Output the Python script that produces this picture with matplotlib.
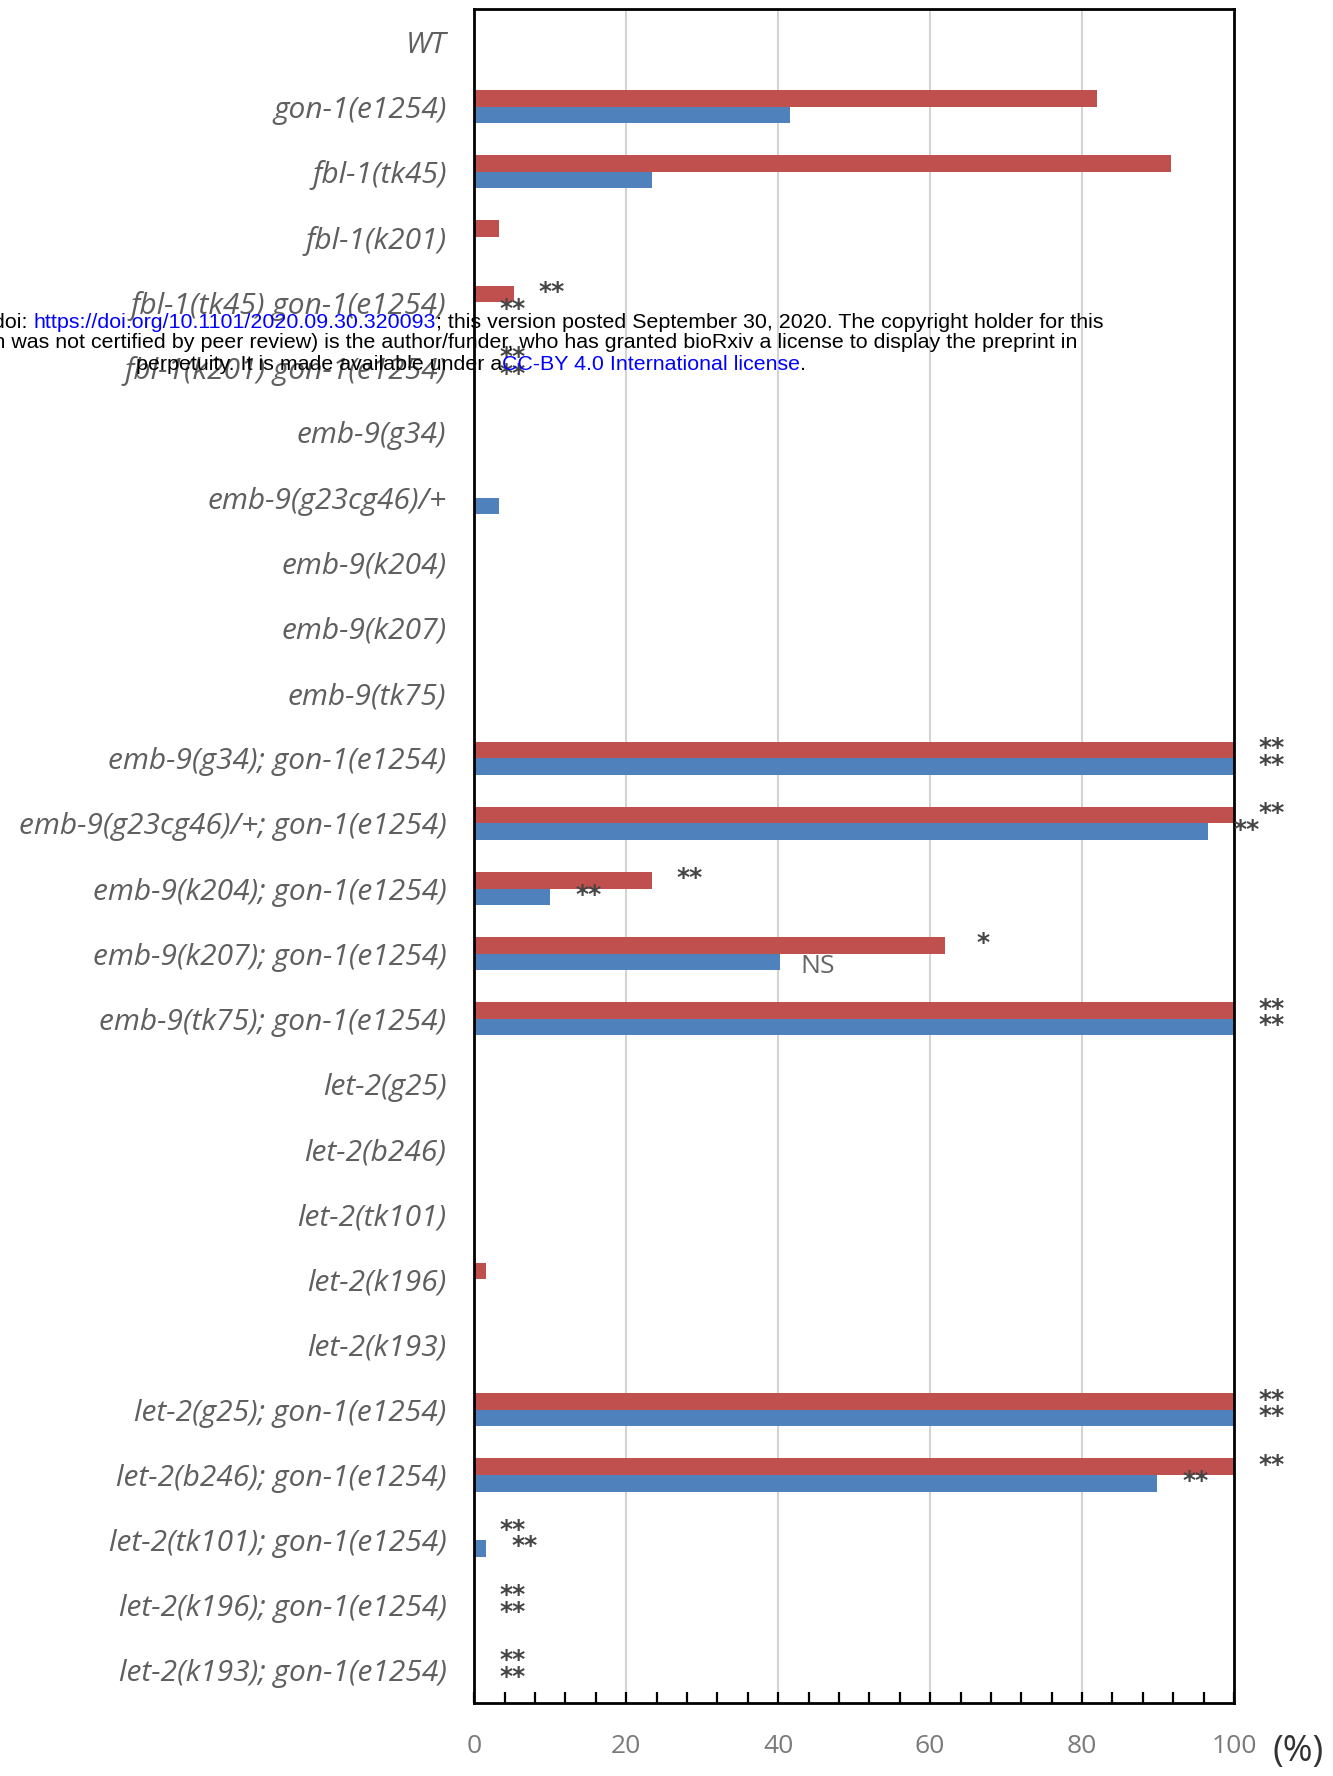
import matplotlib
matplotlib.use("Agg")
import matplotlib.pyplot as plt
from matplotlib.ticker import MultipleLocator
import numpy as np

# ---- data ----
categories = [
    "WT",
    "gon-1(e1254)",
    "fbl-1(tk45)",
    "fbl-1(k201)",
    "fbl-1(tk45) gon-1(e1254)",
    "fbl-1(k201) gon-1(e1254)",
    "emb-9(g34)",
    "emb-9(g23cg46)/+",
    "emb-9(k204)",
    "emb-9(k207)",
    "emb-9(tk75)",
    "emb-9(g34); gon-1(e1254)",
    "emb-9(g23cg46)/+; gon-1(e1254)",
    "emb-9(k204); gon-1(e1254)",
    "emb-9(k207); gon-1(e1254)",
    "emb-9(tk75); gon-1(e1254)",
    "let-2(g25)",
    "let-2(b246)",
    "let-2(tk101)",
    "let-2(k196)",
    "let-2(k193)",
    "let-2(g25); gon-1(e1254)",
    "let-2(b246); gon-1(e1254)",
    "let-2(tk101); gon-1(e1254)",
    "let-2(k196); gon-1(e1254)",
    "let-2(k193); gon-1(e1254)",
]

red_values = [0, 82, 91.7, 3.3, 5.2, 0,
              0, 0, 0, 0, 0,
              100, 100, 23.4, 62, 100,
              0, 0, 0, 1.5, 0,
              100, 100, 0, 0, 0]

blue_values = [0, 41.6, 23.4, 0, 0, 0,
               0, 3.3, 0, 0, 0,
               100, 96.6, 10, 40.2, 100,
               0, 0, 0, 0, 0,
               100, 89.9, 1.6, 0, 0]

# significance marks: (category index, series, mark)
marks = [
    (4, "red", "**"), (4, "blue", "**"),
    (5, "red", "**"), (5, "blue", "**"),
    (11, "red", "**"), (11, "blue", "**"),
    (12, "red", "**"), (12, "blue", "**"),
    (13, "red", "**"), (13, "blue", "**"),
    (14, "red", "*"), (14, "blue", "NS"),
    (15, "red", "**"), (15, "blue", "**"),
    (21, "red", "**"), (21, "blue", "**"),
    (22, "red", "**"), (22, "blue", "**"),
    (23, "red", "**"), (23, "blue", "**"),
    (24, "red", "**"), (24, "blue", "**"),
    (25, "red", "**"), (25, "blue", "**"),
]

x_ticks = [0, 20, 40, 60, 80, 100]

# ---- styling ----
RED = "#C0504D"
BLUE = "#4F81BD"
LABEL_GRAY = "#5f5f5f"
TICK_GRAY = "#7a7a7a"
LABEL_FONT = ["Open Sans", "DejaVu Sans"]

W, H = 1333, 1776
fig = plt.figure(figsize=(W / 100, H / 100), dpi=100)
ax_left, ax_right, ax_top, ax_bottom = 474.3, 1234.0, 9.0, 1703.0
ax = fig.add_axes([ax_left / W, 1 - ax_bottom / H,
                   (ax_right - ax_left) / W, (ax_bottom - ax_top) / H])

y = np.arange(len(categories))
bar_h = 0.255
ax.barh(y - bar_h / 2, red_values, height=bar_h, color=RED, zorder=3)
ax.barh(y + bar_h / 2, blue_values, height=bar_h, color=BLUE, zorder=3)

ax.set_xlim(0, 100)
ax.set_ylim(len(categories) - 0.5, -0.5)

# grid and frame
for gx in x_ticks[1:-1]:
    ax.axvline(gx, color="#d4d4d4", lw=1.5, zorder=1)
for sp in ax.spines.values():
    sp.set_color("black")
    sp.set_linewidth(2)
    sp.set_zorder(5)

ax.set_xticks(x_ticks)
ax.set_xticklabels([str(t) for t in x_ticks])
ax.xaxis.set_minor_locator(MultipleLocator(4))
ax.tick_params(axis="x", which="both", direction="in", length=8, width=1.6,
               color="black", top=False, pad=22, labelsize=19,
               labelcolor=TICK_GRAY)
for lab in ax.get_xticklabels():
    lab.set_family(LABEL_FONT)

ax.set_yticks(y)
ax.set_yticklabels(categories)
ax.tick_params(axis="y", length=0, pad=20, labelsize=21.5,
               labelcolor=LABEL_GRAY)
for lab in ax.get_yticklabels():
    lab.set_family(LABEL_FONT)
    lab.set_style("italic")

# significance marks next to each bar
offset = 5.0
for idx, series, mark in marks:
    if series == "red":
        val = red_values[idx]
        yc = idx - bar_h / 2
    else:
        val = blue_values[idx]
        yc = idx + bar_h / 2
    if mark == "NS":
        ax.text(val + offset, yc + 0.07, mark, ha="center", va="center",
                fontsize=19, color="#666666", family=LABEL_FONT,
                clip_on=False, zorder=6)
    else:
        ax.text(val + offset, yc - 0.03, mark, ha="center", va="center",
                fontsize=18, fontweight="bold", color="#454545",
                family=["DejaVu Sans"], clip_on=False, zorder=6)

fig.text(1272 / W, 1 - 1752 / H, "(%)", ha="left", va="center",
         fontsize=26, color="#333333", family=LABEL_FONT)

# ---- preprint notice printed across the page ----
notice_lines = [
    [("bioRxiv preprint doi: ", "black"),
     ("https://doi.org/10.1101/2020.09.30.320093", "blue"),
     ("; this version posted September 30, 2020. The copyright holder for this", "black")],
    [("preprint (which was not certified by peer review) is the author/funder, "
      "who has granted bioRxiv a license to display the preprint in", "black")],
    [("perpetuity. It is made available under a", "black"),
     ("CC-BY 4.0 International license", "blue"),
     (".", "black")],
]
notice_y = [322.0, 342.5, 364.0]
notice_cx = 471.0
notice_fs = 15.4

renderer = fig.canvas.get_renderer()


def text_width(s):
    t = fig.text(0, 0, s + "I", fontsize=notice_fs, family=["Liberation Sans"])
    ref = fig.text(0, 0, "I", fontsize=notice_fs, family=["Liberation Sans"])
    w = t.get_window_extent(renderer).width - ref.get_window_extent(renderer).width
    t.remove()
    ref.remove()
    return w


for segs, ly in zip(notice_lines, notice_y):
    full = "".join(s for s, _ in segs)
    total = text_width(full)
    x0 = notice_cx - total / 2
    prefix = ""
    for s, col in segs:
        xs = x0 + (text_width(prefix) if prefix else 0.0)
        fig.text(xs / W, 1 - ly / H, s, ha="left", va="center",
                 fontsize=notice_fs, color=col, family=["Liberation Sans"],
                 zorder=10)
        prefix += s

fig.savefig("out.png", dpi=100)
